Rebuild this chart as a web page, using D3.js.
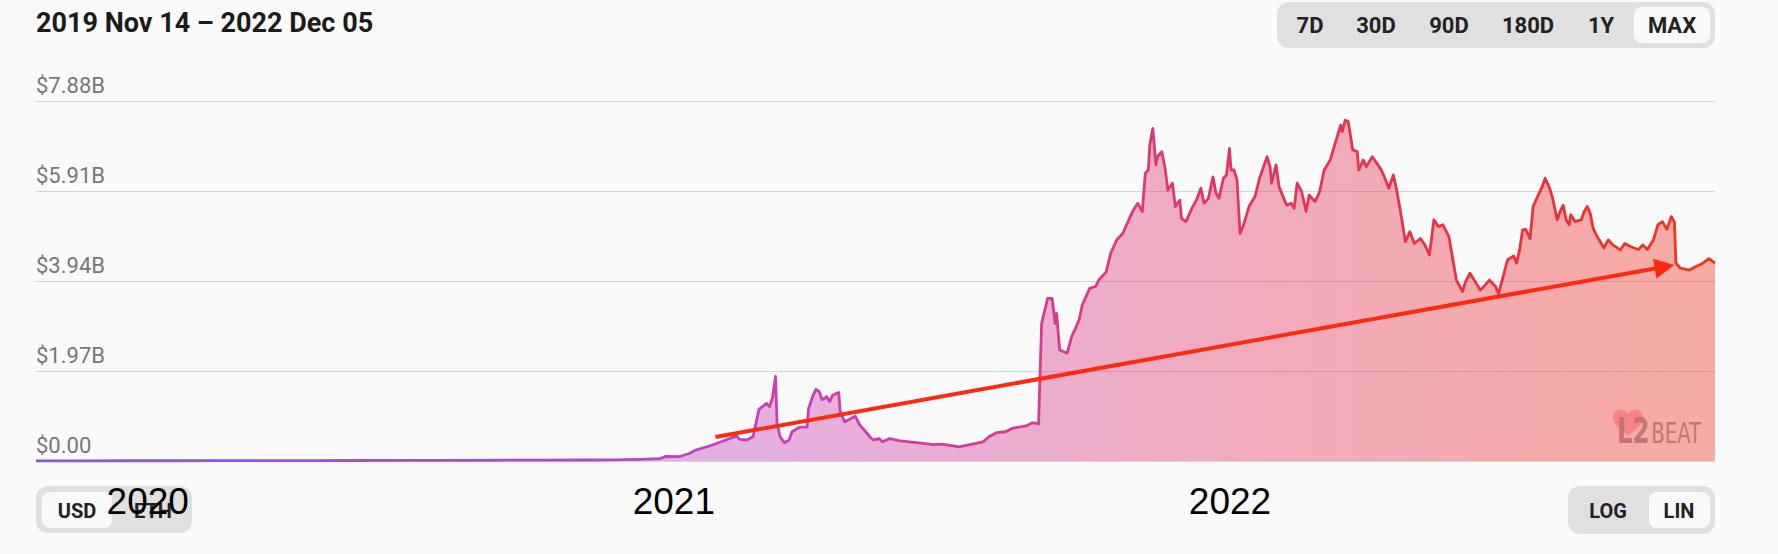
<!DOCTYPE html>
<html>
<head>
<meta charset="utf-8">
<script src="https://cdn.jsdelivr.net/npm/d3@7"></script>
<style>
  html, body { margin: 0; padding: 0; background: #fafafa; }
  svg { display: block; }
</style>
</head>
<body>
<svg id="chart" width="1778" height="554"></svg>
<script>
// ---------------- DATA ----------------
const titleText = "2019 Nov 14 \u2013 2022 Dec 05";
const rangeStart = "2019-11-14";
const rangeEnd = "2022-12-05";

// Total value locked, billions USD
const tvlDates = [
  "2019-11-14","2019-12-15","2020-01-15","2020-02-15","2020-03-15","2020-04-15","2020-05-15","2020-06-15",
  "2020-07-15","2020-08-15","2020-09-15","2020-10-15","2020-11-15","2020-12-01","2020-12-20","2021-01-02",
  "2021-01-06","2021-01-15","2021-01-22","2021-01-26","2021-02-06","2021-02-15","2021-02-22","2021-02-24",
  "2021-03-01","2021-03-05","2021-03-07","2021-03-09","2021-03-14","2021-03-16","2021-03-18","2021-03-20",
  "2021-03-21","2021-03-23","2021-03-26","2021-03-29","2021-03-31","2021-04-05","2021-04-10","2021-04-11",
  "2021-04-14","2021-04-16","2021-04-18","2021-04-20","2021-04-23","2021-04-25","2021-04-27","2021-05-01",
  "2021-05-02","2021-05-05","2021-05-08","2021-05-12","2021-05-15","2021-05-19","2021-05-22","2021-05-24",
  "2021-05-28","2021-05-30","2021-06-04","2021-06-11","2021-06-22","2021-07-03","2021-07-09","2021-07-20",
  "2021-07-29","2021-08-05","2021-08-09","2021-08-14","2021-08-20","2021-08-25","2021-09-03","2021-09-07",
  "2021-09-11","2021-09-13","2021-09-17","2021-09-20","2021-09-22","2021-09-23","2021-09-25","2021-09-30",
  "2021-10-03","2021-10-08","2021-10-10","2021-10-15","2021-10-19","2021-10-21","2021-10-26","2021-10-29",
  "2021-11-02","2021-11-06","2021-11-11","2021-11-13","2021-11-16","2021-11-19","2021-11-21","2021-11-23",
  "2021-11-24","2021-11-26","2021-11-28","2021-11-29","2021-12-02","2021-12-04","2021-12-06","2021-12-09",
  "2021-12-11","2021-12-14","2021-12-15","2021-12-18","2021-12-22","2021-12-25","2021-12-28","2021-12-30",
  "2022-01-02","2022-01-05","2022-01-07","2022-01-09","2022-01-12","2022-01-14","2022-01-16","2022-01-17",
  "2022-01-19","2022-01-21","2022-01-23","2022-01-25","2022-01-27","2022-01-29","2022-02-02","2022-02-05",
  "2022-02-10","2022-02-12","2022-02-13","2022-02-16","2022-02-18","2022-02-23","2022-02-26","2022-02-28",
  "2022-03-02","2022-03-05","2022-03-08","2022-03-10","2022-03-14","2022-03-17","2022-03-20","2022-03-24",
  "2022-03-27","2022-03-31","2022-04-01","2022-04-03","2022-04-05","2022-04-08","2022-04-11","2022-04-12",
  "2022-04-15","2022-04-17","2022-04-21","2022-04-24","2022-04-27","2022-04-29","2022-05-02","2022-05-05",
  "2022-05-07","2022-05-10","2022-05-13","2022-05-16","2022-05-19","2022-05-23","2022-05-26","2022-05-29",
  "2022-06-01","2022-06-04","2022-06-07","2022-06-11","2022-06-14","2022-06-16","2022-06-20","2022-06-22",
  "2022-06-25","2022-07-02","2022-07-08","2022-07-12","2022-07-14","2022-07-17","2022-07-20","2022-07-24",
  "2022-07-26","2022-07-28","2022-07-30","2022-08-01","2022-08-04","2022-08-06","2022-08-09","2022-08-12",
  "2022-08-14","2022-08-17","2022-08-19","2022-08-22","2022-08-24","2022-08-26","2022-08-28","2022-08-30",
  "2022-08-31","2022-09-03","2022-09-07","2022-09-09","2022-09-11","2022-09-13","2022-09-15","2022-09-17",
  "2022-09-19","2022-09-22","2022-09-25","2022-09-28","2022-10-03","2022-10-06","2022-10-10","2022-10-15",
  "2022-10-18","2022-10-21","2022-10-25","2022-10-28","2022-10-31","2022-11-03","2022-11-06","2022-11-08",
  "2022-11-09","2022-11-12","2022-11-18","2022-11-22","2022-11-26","2022-12-01","2022-12-05"
];
const tvlValues = [
  0.003,0.004,0.005,0.006,0.007,0.008,0.009,0.011,
  0.013,0.015,0.016,0.020,0.022,0.025,0.035,0.05,
  0.10,0.094,0.17,0.24,0.35,0.46,0.55,0.475,
  0.46,0.53,0.83,1.13,1.26,1.19,1.39,1.85,
  0.83,0.53,0.40,0.46,0.64,0.74,0.74,1.15,
  1.44,1.57,1.52,1.34,1.41,1.30,1.44,1.50,
  1.08,0.86,0.91,0.98,0.79,0.64,0.52,0.46,
  0.49,0.42,0.49,0.44,0.40,0.36,0.37,0.31,
  0.37,0.42,0.53,0.62,0.64,0.72,0.77,0.84,
  0.81,3.01,3.56,3.56,3.01,3.23,2.43,2.36,
  2.72,3.09,3.41,3.78,3.82,3.96,4.14,4.55,
  4.84,4.98,5.35,5.49,5.64,5.46,6.30,6.37,
  6.92,7.28,6.48,6.66,6.77,6.44,5.93,6.08,
  5.57,5.71,5.31,5.24,5.53,5.71,5.97,5.64,
  5.75,6.22,5.86,5.75,6.19,6.26,6.84,6.37,
  6.37,6.15,4.98,5.13,5.35,5.57,5.79,6.19,
  6.66,6.44,6.08,6.48,6.00,5.60,5.64,5.53,
  6.08,5.90,5.46,5.82,5.68,5.90,6.37,6.59,
  6.92,7.35,7.21,7.46,7.43,6.81,6.77,6.37,
  6.59,6.44,6.66,6.52,6.37,6.22,5.97,6.26,
  5.97,5.42,4.80,5.02,4.76,4.87,4.73,4.51,
  5.28,5.13,5.17,4.91,4.33,3.96,3.71,3.92,
  4.11,3.74,3.96,3.82,3.66,4.03,4.40,4.49,
  4.33,4.62,5.06,5.07,4.87,5.57,5.79,6.00,
  6.19,5.97,5.75,5.28,5.46,5.60,5.28,5.17,
  5.39,5.24,5.28,5.46,5.57,5.42,5.09,4.95,
  4.84,4.66,4.84,4.73,4.62,4.76,4.69,4.63,
  4.73,4.63,4.84,5.17,5.24,5.07,5.35,5.23,
  4.33,4.22,4.18,4.25,4.31,4.43,4.33
];

const yTicks = [0, 1.97, 3.94, 5.91, 7.88];
const yTickLabels = ["$0.00", "$1.97B", "$3.94B", "$5.91B", "$7.88B"];
const yearTickDates = ["2020-01-27", "2021-01-11", "2022-01-16"];
const yearLabels = ["2020", "2021", "2022"];
const rangeButtons = ["7D", "30D", "90D", "180D", "1Y", "MAX"];
const currencyButtons = ["USD", "ETH"];
const scaleButtons = ["LOG", "LIN"];
// trend arrow annotation (date, value in billions)
const arrowDates = ["2021-02-08", "2022-11-08"];
const arrowValues = [0.525, 4.29];

// ---------------- LAYOUT ----------------
const W = 1778, H = 554;
const plot = { left: 36, right: 1715, top: 101, bottom: 461 };
const font = "Roboto, 'Noto Sans', sans-serif";

const svg = d3.select("#chart");
svg.append("rect").attr("width", W).attr("height", H).attr("fill", "#fafafa");

const parse = d3.utcParse("%Y-%m-%d");
const data = tvlDates.map((d, i) => ({ date: parse(d), value: tvlValues[i] }));

const x = d3.scaleUtc().domain([parse(rangeStart), parse(rangeEnd)]).range([plot.left, plot.right]);
const y = d3.scaleLinear().domain([0, yTicks[yTicks.length - 1]]).range([plot.bottom, plot.top]);

// gradients
const defs = svg.append("defs");
const lg = defs.append("linearGradient").attr("id", "lineGrad")
  .attr("gradientUnits", "userSpaceOnUse")
  .attr("x1", plot.left).attr("x2", plot.right).attr("y1", 0).attr("y2", 0);
[[0, "#7f5ae6"], [0.3, "#a94bd0"], [0.45, "#c940b4"], [0.6, "#d93a8c"], [0.75, "#e33558"], [0.9, "#ec3136"], [1, "#f0361e"]]
  .forEach(([o, c]) => lg.append("stop").attr("offset", o).attr("stop-color", c));

// title
svg.append("text").attr("x", 36).attr("y", 32).text(titleText)
  .attr("font-family", font).attr("font-weight", 700).attr("font-size", 27).attr("fill", "#1b1b1b");

// button groups
function buttonGroup(labels, box, sel, centers, baseline, fontSize) {
  const g = svg.append("g");
  g.append("rect").attr("x", box.x).attr("y", box.y).attr("width", box.w).attr("height", box.h)
    .attr("rx", 12).attr("fill", "#e0e0e0");
  g.append("rect").attr("x", sel.x).attr("y", sel.y).attr("width", sel.w).attr("height", sel.h)
    .attr("rx", 8).attr("fill", "#f9f9f9");
  g.selectAll("text").data(labels).join("text")
    .attr("x", (d, i) => centers[i]).attr("y", baseline)
    .attr("text-anchor", "middle").attr("font-family", font).attr("font-weight", 700)
    .attr("font-size", fontSize).attr("fill", "#222").text(d => d);
}
buttonGroup(rangeButtons, { x: 1277, y: 2, w: 438, h: 46 }, { x: 1634, y: 7, w: 76, h: 36 },
  [1310, 1376, 1449, 1528, 1601, 1672], 33, 22);
buttonGroup(currencyButtons, { x: 36, y: 486, w: 156, h: 47 }, { x: 42, y: 492, w: 70, h: 36 },
  [77, 153], 518, 20);
buttonGroup(scaleButtons, { x: 1568, y: 486, w: 147, h: 48 }, { x: 1649, y: 492, w: 61, h: 36 },
  [1608, 1679], 518, 20);

// y axis with gridlines
const yAxis = d3.axisRight(y).tickValues(yTicks).tickSize(plot.right - plot.left)
  .tickFormat((d, i) => yTickLabels[i]);
const gy = svg.append("g").attr("transform", `translate(${plot.left},0)`).call(yAxis);
gy.select(".domain").remove();
gy.selectAll(".tick line").attr("stroke", "#d4d4d4").attr("stroke-width", 1);
gy.selectAll(".tick text").attr("x", 0).attr("dy", -9).attr("text-anchor", "start")
  .attr("font-family", font).attr("font-size", 22).attr("fill", "#777");

// area + line
const area = d3.area().x(d => x(d.date)).y0(y(0)).y1(d => y(d.value));
const line = d3.line().x(d => x(d.date)).y(d => y(d.value));
svg.append("path").datum(data).attr("d", area)
  .attr("fill", "url(#lineGrad)").attr("fill-opacity", 0.4);
svg.append("path").datum(data).attr("d", line)
  .attr("fill", "none").attr("stroke", "url(#lineGrad)").attr("stroke-width", 2.8)
  .attr("stroke-linejoin", "round");

// trend arrow
const ax0 = x(parse(arrowDates[0])), ay0 = y(arrowValues[0]);
const ax1 = x(parse(arrowDates[1])), ay1 = y(arrowValues[1]);
const len = Math.hypot(ax1 - ax0, ay1 - ay0);
const ux = (ax1 - ax0) / len, uy = (ay1 - ay0) / len;
const headL = 20, headW = 10;
const bx = ax1 - ux * headL, by = ay1 - uy * headL;
svg.append("line").attr("x1", ax0).attr("y1", ay0).attr("x2", bx + ux * 2).attr("y2", by + uy * 2)
  .attr("stroke", "#fd2a10").attr("stroke-width", 4);
svg.append("path")
  .attr("d", `M${ax1},${ay1} L${bx - uy * headW},${by + ux * headW} L${bx + uy * headW},${by - ux * headW} Z`)
  .attr("fill", "#fd2a10");

// L2BEAT watermark
const logo = svg.append("g");
const hs = 30, hx = 1628, hy = 424;
logo.append("path")
  .attr("d", `M0,0.38 C-0.3,0.15 -0.5,0 -0.5,-0.22 C-0.5,-0.5 -0.15,-0.6 0,-0.32 C0.15,-0.6 0.5,-0.5 0.5,-0.22 C0.5,0 0.3,0.15 0,0.38 Z`)
  .attr("transform", `translate(${hx},${hy}) scale(${hs})`)
  .attr("fill", "#f77d86").attr("opacity", 0.9);
const logoText = logo.append("text").attr("x", 1617).attr("y", 443)
  .attr("font-family", "'Liberation Sans Narrow', 'DejaVu Sans Condensed', sans-serif")
  .attr("fill", "#c06c6c").attr("opacity", 0.85)
  .attr("textLength", 84).attr("lengthAdjust", "spacingAndGlyphs");
logoText.append("tspan").text("L2").attr("font-size", 36).attr("font-weight", 700);
logoText.append("tspan").text("BEAT").attr("font-size", 29).attr("dx", 2);

// x axis year labels
const xAxis = d3.axisBottom(x).tickValues(yearTickDates.map(parse))
  .tickFormat((d, i) => yearLabels[i]).tickSize(0).tickPadding(0);
const gx = svg.append("g").attr("transform", "translate(0,514)").call(xAxis);
gx.select(".domain").remove();
gx.selectAll(".tick text").attr("dy", 0)
  .attr("font-family", "'Liberation Sans', Arial, sans-serif").attr("font-size", 37).attr("fill", "#000");
</script>
</body>
</html>
